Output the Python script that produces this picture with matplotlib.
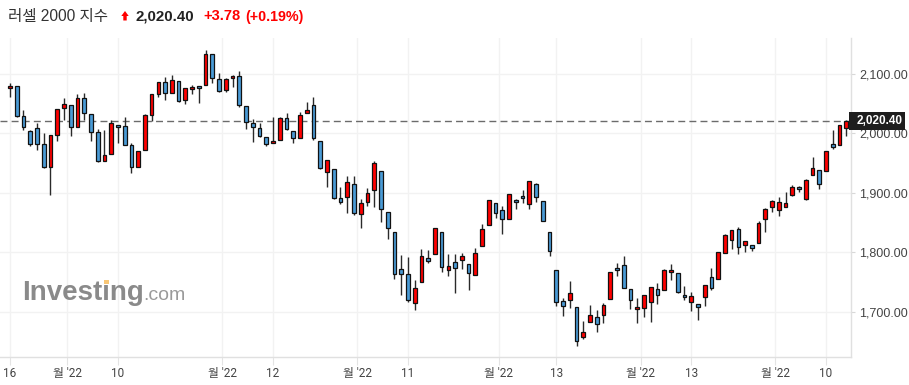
import matplotlib
matplotlib.use("Agg")
import matplotlib.pyplot as plt
from matplotlib.patches import Rectangle, Polygon

# ---------------- data ----------------
opens = [2075.4, 2078.7, 2028.4, 2003.8, 2008.3, 1981.4, 1942.8, 1996.5, 2041.8, 2046.9,
         2009.9, 2058.6, 2031.7, 2001.5, 1952.9, 1964.6, 2013.3, 2011.6, 1979.7, 1942.8,
         1971.3, 2030.1, 2065.3, 2085.5, 2067.0, 2087.1, 2055.2, 2073.7, 2078.7, 2080.4,
         2132.4, 2090.5, 2072.0, 2092.2, 2095.5, 2045.2, 2016.6, 2008.3, 1993.1, 1983.1,
         1988.1, 2025.0, 2003.2, 1991.5, 2033.4, 2046.9, 1986.4, 1934.4, 1939.4, 1890.8,
         1892.5, 1914.3, 1863.9, 1884.1, 1904.2, 1936.1, 1867.3, 1833.7, 1771.6, 1763.2,
         1714.6, 1749.8, 1790.1, 1796.8, 1833.7, 1769.9, 1783.4, 1786.7, 1780.0, 1761.5,
         1810.2, 1845.5, 1882.4, 1870.6, 1855.5, 1887.4, 1894.1, 1880.7, 1914.3, 1885.7,
         1833.7, 1769.9, 1717.9, 1719.6, 1707.8, 1657.5, 1682.7, 1691.0, 1694.4, 1721.3,
         1773.3, 1778.3, 1738.1, 1704.5, 1706.2, 1716.2, 1738.1, 1736.4, 1766.6, 1764.9,
         1728.0, 1716.2, 1712.9, 1724.6, 1758.2, 1754.8, 1798.5, 1820.3, 1838.7, 1811.9,
         1811.9, 1815.2, 1855.5, 1875.7, 1870.6, 1875.7, 1895.8, 1909.2, 1889.1, 1929.4,
         1937.8, 1936.1, 1981.4, 1979.7, 2008.3]
highs = [2084.9, 2078.7, 2038.5, 2005.5, 2016.6, 2001.0, 1996.5, 2040.1, 2058.6, 2046.9,
         2065.9, 2067.0, 2031.7, 2006.6, 2005.5, 2022.2, 2013.3, 2026.7, 1983.1, 1969.7,
         2032.3, 2065.3, 2085.5, 2093.8, 2097.8, 2087.1, 2075.4, 2080.4, 2078.7, 2139.2,
         2132.4, 2100.6, 2092.2, 2097.2, 2103.9, 2045.2, 2023.4, 2016.6, 1993.1, 2026.7,
         2026.7, 2033.4, 2003.2, 2035.1, 2051.9, 2060.3, 1986.4, 1954.5, 1939.4, 1909.2,
         1927.7, 1927.7, 1889.1, 1907.6, 1952.9, 1936.1, 1867.3, 1833.7, 1795.1, 1791.7,
         1753.2, 1805.2, 1803.5, 1840.4, 1833.7, 1796.8, 1796.8, 1798.5, 1780.0, 1806.9,
         1847.1, 1887.4, 1882.4, 1877.3, 1897.5, 1889.1, 1904.2, 1919.3, 1915.9, 1885.7,
         1833.7, 1769.9, 1722.9, 1751.5, 1707.8, 1684.3, 1711.2, 1702.8, 1714.6, 1766.6,
         1781.7, 1793.4, 1738.1, 1722.9, 1728.0, 1741.4, 1748.1, 1771.6, 1780.0, 1764.9,
         1743.1, 1733.0, 1712.9, 1744.8, 1773.3, 1800.1, 1830.4, 1837.1, 1842.1, 1818.6,
         1811.9, 1852.2, 1874.0, 1887.4, 1892.5, 1900.8, 1912.6, 1910.9, 1922.7, 1959.6,
         1937.8, 1969.7, 2004.9, 2013.3, 2021.7]
lows = [2060.3, 2026.7, 2005.5, 1978.6, 1971.9, 1942.2, 1895.8, 1987.6, 2022.2, 1995.9,
        2009.9, 2022.2, 1986.4, 1951.2, 1952.9, 1964.6, 1983.1, 1979.7, 1932.7, 1942.8,
        1971.3, 2020.0, 2060.3, 2055.2, 2067.0, 2051.9, 2048.5, 2065.3, 2050.2, 2080.4,
        2084.9, 2068.7, 2068.7, 2077.1, 2043.5, 2006.6, 1984.8, 1993.1, 1978.0, 1983.1,
        1988.1, 2004.9, 1983.1, 1991.5, 2033.4, 1988.1, 1939.4, 1909.2, 1889.1, 1880.7,
        1865.6, 1862.2, 1840.4, 1877.3, 1875.7, 1850.5, 1822.0, 1754.8, 1728.0, 1716.2,
        1702.8, 1749.8, 1781.7, 1796.8, 1766.6, 1759.9, 1731.3, 1771.6, 1736.4, 1761.5,
        1810.2, 1845.5, 1857.2, 1830.4, 1855.5, 1872.3, 1882.4, 1872.3, 1884.1, 1852.2,
        1793.4, 1709.5, 1692.7, 1706.2, 1642.4, 1654.1, 1682.7, 1665.9, 1681.0, 1721.3,
        1759.9, 1739.7, 1704.5, 1681.0, 1691.0, 1682.7, 1712.9, 1736.4, 1753.2, 1731.3,
        1719.6, 1701.1, 1686.0, 1709.5, 1736.4, 1754.8, 1798.5, 1805.2, 1796.8, 1800.1,
        1801.8, 1815.2, 1833.7, 1867.3, 1860.6, 1875.7, 1894.1, 1900.8, 1887.4, 1929.4,
        1905.9, 1936.1, 1973.0, 1979.7, 1994.8]
closes = [2078.7, 2028.4, 2009.9, 1981.4, 1981.4, 1943.9, 1996.5, 2040.1, 2048.5, 2009.9,
          2058.6, 2033.4, 2001.5, 1952.9, 1962.9, 2016.6, 2009.9, 1979.7, 1942.8, 1969.7,
          2030.1, 2065.3, 2085.5, 2067.0, 2088.8, 2053.6, 2075.4, 2077.1, 2075.4, 2132.4,
          2092.2, 2070.3, 2090.5, 2095.5, 2046.9, 2018.3, 2009.9, 1994.8, 1981.4, 1986.4,
          2025.0, 2006.6, 1991.5, 2030.1, 2038.5, 1991.5, 1941.1, 1954.5, 1890.8, 1884.1,
          1917.6, 1865.6, 1882.4, 1899.2, 1949.5, 1872.3, 1840.4, 1763.2, 1763.2, 1719.6,
          1739.7, 1793.4, 1785.0, 1840.4, 1775.0, 1776.6, 1773.3, 1793.4, 1764.9, 1798.5,
          1838.7, 1887.4, 1865.6, 1855.5, 1897.5, 1884.1, 1890.8, 1919.3, 1892.5, 1852.2,
          1801.8, 1716.2, 1709.5, 1731.3, 1650.8, 1665.9, 1694.4, 1679.3, 1711.2, 1766.6,
          1769.9, 1739.7, 1719.6, 1707.8, 1728.0, 1741.4, 1728.0, 1769.9, 1769.9, 1733.0,
          1724.6, 1726.3, 1707.8, 1744.8, 1739.7, 1800.1, 1828.7, 1837.1, 1808.5, 1818.6,
          1806.9, 1848.8, 1872.3, 1885.7, 1884.1, 1882.4, 1909.2, 1905.9, 1921.0, 1941.1,
          1914.3, 1969.7, 1976.4, 2013.3, 2020.4]

tick_positions = [0, 8.5, 16, 31.5, 39, 51.5, 59, 72.5, 81, 93.5, 101, 113.5, 121]
tick_labels = ["16", "월 '22", "10", "월 '22", "12", "월 '22", "11",
               "월 '22", "13", "월 '22", "13", "월 '22", "10"]
price_ticks = [1700, 1800, 1900, 2000, 2100]

title_name = "러셀 2000 지수"
last_price = 2020.40
change = 3.78
change_pct = 0.19

# ---------------- figure ----------------
W, H = 909, 385
fig = plt.figure(figsize=(W / 100, H / 100), dpi=100)
fig.patch.set_facecolor("white")


def fx(px):
    return px / W


def fy(py):
    return 1 - py / H


ax = fig.add_axes([0, fy(357), fx(851), (357 - 38) / H])
ax.set_facecolor("white")

UP = "#ff0000"
DOWN = "#4a9bd6"
x = list(range(len(opens)))
colors = [UP if c >= o else DOWN for o, c in zip(opens, closes)]
bottoms = [min(o, c) for o, c in zip(opens, closes)]
heights = [max(abs(c - o), 1.2) for o, c in zip(opens, closes)]

ax.vlines(x, lows, highs, color="#2a2a2a", linewidth=1.0, zorder=2)
ax.bar(x, heights, bottom=bottoms, width=0.55, color=colors,
       edgecolor="#111111", linewidth=0.9, zorder=3)

ax.axhline(last_price, color="#6b6b6b", linewidth=1.0,
           linestyle=(0, (5, 3)), zorder=1.5)

ax.set_xlim(-1.483, 124.70)
ax.set_ylim(1624.5, 2160.0)

ax.yaxis.tick_right()
ax.set_yticks(price_ticks)
ax.set_yticklabels([f"{v:,.2f}" for v in price_ticks])
ax.set_xticks(tick_positions)
ax.set_xticklabels(tick_labels)

ax.tick_params(axis="y", length=3, color="#d8d8d8", labelsize=9,
               labelcolor="#444444", pad=3)
ax.tick_params(axis="x", length=6, color="#e4e4e4", labelsize=8.5,
               labelcolor="#444444", pad=1)
for lab in ax.get_xticklabels():
    lab.set_family(["Roboto", "Noto Sans CJK KR"])
for lab in ax.get_yticklabels():
    lab.set_family(["Liberation Sans"])

ax.grid(True, color="#f2f2f2", linewidth=1.0)
ax.set_axisbelow(True)
for s in ["top", "left"]:
    ax.spines[s].set_visible(False)
for s in ["right", "bottom"]:
    ax.spines[s].set_color("#e0e0e0")
    ax.spines[s].set_linewidth(1.0)

# price badge
fig.add_artist(Rectangle((fx(849), fy(130)), 56 / W, 18 / H,
                         transform=fig.transFigure, facecolor="#1e1e1e",
                         edgecolor="none", zorder=10))
fig.text(fx(903), fy(121.5), f"{last_price:,.2f}", ha="right", va="center",
         color="white", fontsize=8.5, fontweight="bold",
         family=["Liberation Sans"], zorder=11)

# title
tfam = ["Liberation Sans", "Noto Sans CJK KR"]
fig.text(fx(8), fy(20.5), title_name, fontsize=11.2, color="#333333",
         va="baseline", family=tfam)
fig.add_artist(Polygon([(fx(125), fy(11)), (fx(121.3), fy(16)), (fx(123.3), fy(16)),
                        (fx(123.3), fy(20.5)), (fx(126.7), fy(20.5)), (fx(126.7), fy(16)),
                        (fx(128.7), fy(16))], closed=True, transform=fig.transFigure,
                       facecolor=UP, edgecolor="none"))
fig.text(fx(135), fy(20.5), f"{last_price:,.2f}", fontsize=10.8, fontweight="bold",
         color="#222222", va="baseline", family=tfam)
fig.text(fx(203), fy(20.5), f"+{change:.2f}", fontsize=10.5, fontweight="bold",
         color=UP, va="baseline", family=tfam)
fig.text(fx(245), fy(20.5), f"(+{change_pct:.2f}%)", fontsize=10.3, fontweight="bold",
         color=UP, va="baseline", family=tfam)

# watermark
fig.text(fx(22), fy(300), "Investing", fontsize=20, fontweight="bold",
         color="#8a8a8a", va="baseline", family=["Liberation Sans"], zorder=0.5)
fig.add_artist(Rectangle((fx(104.3), fy(284)), 4.2 / W, 4.2 / H,
                         transform=fig.transFigure, facecolor="#f8c675",
                         edgecolor="none", zorder=0.6))
fig.text(fx(143), fy(300), ".com", fontsize=14, color="#9a9a9a",
         va="baseline", family=["Liberation Sans"], zorder=0.5)

fig.savefig("out.png", dpi=100, facecolor="white")
